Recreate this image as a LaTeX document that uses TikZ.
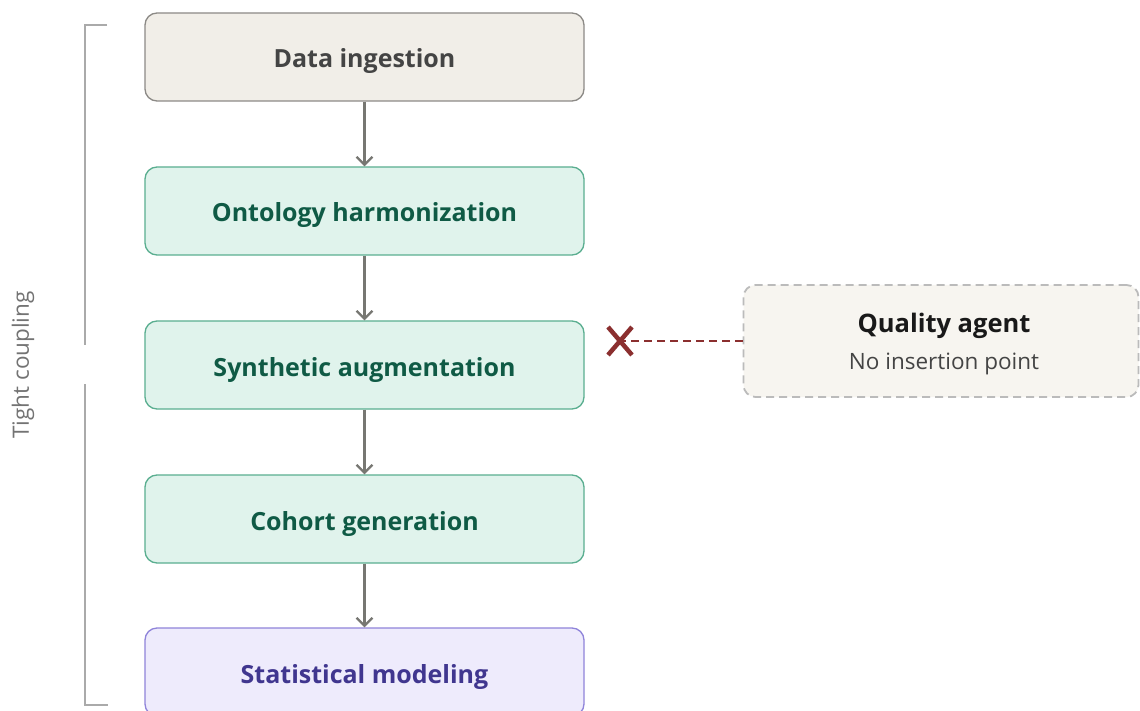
\documentclass[tikz,border=0pt]{standalone}
\usepackage{fontspec}
\setmainfont{Open Sans}
\usetikzlibrary{arrows.meta,calc}
\definecolor{grayfill}{HTML}{F1EEE8}
\definecolor{grayline}{HTML}{8C8A86}
\definecolor{graytext}{HTML}{444444}
\definecolor{greenfill}{HTML}{E0F3EC}
\definecolor{greenline}{HTML}{5AAE90}
\definecolor{greentext}{HTML}{0F5A45}
\definecolor{purplefill}{HTML}{EEEBFC}
\definecolor{purpleline}{HTML}{8F84DA}
\definecolor{purpletext}{HTML}{40368F}
\definecolor{qfill}{HTML}{F7F5F0}
\definecolor{qline}{HTML}{BBBBBB}
\definecolor{xred}{HTML}{8B2F2F}
\definecolor{arrowgray}{HTML}{777772}
\definecolor{bracketgray}{HTML}{AAAAAA}
\tikzset{
  stagebox/.style={rounded corners=12pt, minimum width=439pt, minimum height=88pt, line width=1.3pt, font=\fontsize{25}{30}\selectfont\bfseries, inner sep=0pt, text height=22pt, text depth=0pt},
  graystage/.style={stagebox, draw=grayline, fill=grayfill, text=graytext},
  greenstage/.style={stagebox, draw=greenline, fill=greenfill, text=greentext},
  purplestage/.style={stagebox, draw=purpleline, fill=purplefill, text=purpletext},
  flowarrow/.style={draw=arrowgray, line width=2.5pt, -{Straight Barb[length=8pt,width=16pt,line width=2.2pt]}},
  qbox/.style={rounded corners=12pt, draw=qline, fill=qfill, dash pattern=on 8pt off 5pt, line width=1.8pt, minimum width=395pt, minimum height=112pt},
}
\begin{document}
\begin{tikzpicture}[x=1pt,y=-1pt]
\useasboundingbox (0,0) rectangle (1140,711);
\fill[white] (0,0) rectangle (1140,711);
\node[graystage] (s1) at (364.5,57) {Data ingestion};
\node[greenstage] (s2) at (364.5,211) {Ontology harmonization};
\node[greenstage] (s3) at (364.5,365) {Synthetic augmentation};
\node[greenstage] (s4) at (364.5,519) {Cohort generation};
\node[purplestage] (s5) at (364.5,672) {Statistical modeling};
\draw[flowarrow] (s1) -- (s2);
\draw[flowarrow] (s2) -- (s3);
\draw[flowarrow] (s3) -- (s4);
\draw[flowarrow] (s4) -- (s5);
\node[qbox] (q) at (941,341) {};
\node[font=\fontsize{25.5}{30}\selectfont\bfseries, text=black!90, anchor=base, inner sep=0pt] (qt) at (944,332) {Quality agent};
\node[font=\fontsize{22.5}{26}\selectfont, text=graytext, anchor=base, inner sep=0pt] (qs) at (944,369) {No insertion point};
\coordinate (xc) at (620,341);
\draw[xred, line width=2.5pt, dash pattern=on 8pt off 5pt] (q.west) -- (xc);
\draw[xred, line width=4.5pt] ($(xc)+(-12,-14)$) -- ($(xc)+(12,14)$);
\draw[xred, line width=4.5pt] ($(xc)+(-12,14)$) -- ($(xc)+(12,-14)$);
\coordinate (bt) at (85,25);
\coordinate (bb) at (85,705);
\draw[bracketgray, line width=2pt] (107,25) -- (bt) -- (85,345);
\draw[bracketgray, line width=2pt] (85,384) -- (bb) -- (108,705);
\node[rotate=90, font=\fontsize{22.5}{26}\selectfont, text=black!55] (tc) at (23,365) {Tight coupling};
\end{tikzpicture}
\end{document}
